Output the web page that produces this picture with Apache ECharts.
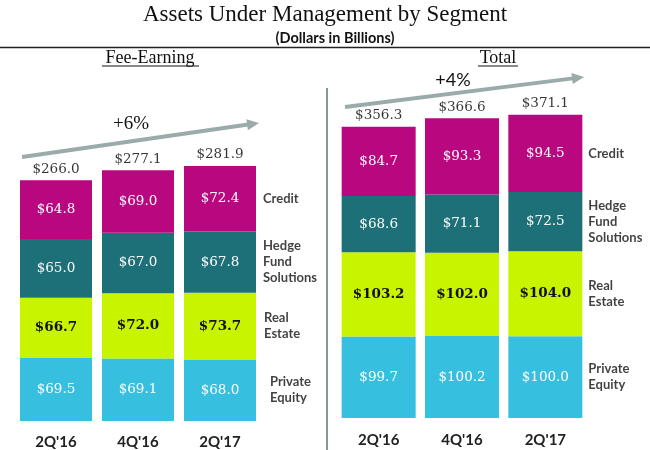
<!DOCTYPE html>
<html>
<head>
<meta charset="utf-8">
<script src="https://cdn.jsdelivr.net/npm/echarts@6/dist/echarts.min.js"></script>
<style>html,body{margin:0;padding:0;background:#fff;}#c{width:650px;height:450px;}</style>
</head>
<body>
<div id="c"></div>
<script>
const categories = ["2Q'16", "4Q'16", "2Q'17"];
const segments = ["Private Equity", "Real Estate", "Hedge Fund Solutions", "Credit"];
const segmentLabels = ["Private\nEquity", "Real\nEstate", "Hedge\nFund\nSolutions", "Credit"];

const feePE = [69.5, 69.1, 68.0];
const feeRE = [66.7, 72.0, 73.7];
const feeHFS = [65.0, 67.0, 67.8];
const feeCredit = [64.8, 69.0, 72.4];
const feeTotals = [266.0, 277.1, 281.9];

const totPE = [99.7, 100.2, 100.0];
const totRE = [103.2, 102.0, 104.0];
const totHFS = [68.6, 71.1, 72.5];
const totCredit = [84.7, 93.3, 94.5];
const totTotals = [356.3, 366.6, 371.1];

const feeGrowth = "+6%";
const totGrowth = "+4%";

const colors = ['#37bfe0', '#c8f400', '#1d7078', '#b8077f'];
const valueColors = ['#ffffff', '#111111', '#ffffff', '#ffffff'];
const valueWeights = ['normal', 'bold', 'normal', 'normal'];

const fmt = v => '$' + v.toFixed(1);

function panelSeries(idx, stacks, totals, barWidth, labelGap) {
  const out = [];
  stacks.forEach((arr, s) => {
    out.push({
      type: 'bar', name: segments[s], stack: 'p' + idx,
      xAxisIndex: idx, yAxisIndex: idx, barWidth: barWidth,
      data: arr,
      itemStyle: { color: colors[s] },
      label: {
        show: true, position: 'inside',
        formatter: p => fmt(p.value),
        fontFamily: 'DejaVu Serif', fontSize: 13.5,
        color: valueColors[s], fontWeight: valueWeights[s]
      },
      silent: true
    });
  });
  // totals on top
  out.push({
    type: 'scatter', xAxisIndex: idx, yAxisIndex: idx, symbolSize: 0,
    data: totals.map((t, i) => [i, t]),
    label: {
      show: true, position: 'top', distance: 4,
      formatter: p => fmt(p.value[1]),
      fontFamily: 'DejaVu Serif', fontSize: 13.5, color: '#000'
    },
    silent: true
  });
  // segment names beside the last bar
  const last = categories.length - 1;
  let cum = 0;
  const segData = stacks.map((arr, s) => {
    const mid = cum + arr[last] / 2;
    cum += arr[last];
    return { value: [last, mid], label: { formatter: segmentLabels[s], distance: barWidth / 2 + labelGap[s] } };
  });
  out.push({
    type: 'scatter', xAxisIndex: idx, yAxisIndex: idx, symbolSize: 0,
    data: segData,
    label: {
      show: true, position: 'right', align: 'left',
      fontFamily: 'Lato', fontSize: 13, fontWeight: 'bold', color: '#111', lineHeight: 16
    },
    silent: true
  });
  return out;
}

function arrow(x1, y1, x2, y2) {
  const dx = x2 - x1, dy = y2 - y1, L = Math.hypot(dx, dy);
  const ux = dx / L, uy = dy / L, px = -uy, py = ux;
  const hl = 12, hw = 5.5;
  const bx = x2 - ux * hl, by = y2 - uy * hl;
  const c = '#9aaba9';
  return [
    { type: 'line', shape: { x1: x1, y1: y1, x2: bx + ux, y2: by + uy }, style: { stroke: c, lineWidth: 4 } },
    { type: 'polygon', shape: { points: [[x2, y2], [bx + px * hw, by + py * hw], [bx - px * hw, by - py * hw]] }, style: { fill: c } }
  ];
}

const chart = echarts.init(document.getElementById('c'));
const xAxisCommon = {
  type: 'category', data: categories,
  axisLine: { show: false }, axisTick: { show: false },
  axisLabel: { fontFamily: 'Lato', fontSize: 15, fontWeight: 'bold', color: '#222' }
};
chart.setOption({
  animation: false,
  backgroundColor: '#fff',
  grid: [
    { left: 15, width: 246, top: 59, height: 362 },
    { left: 337, width: 250, top: 91, height: 327 }
  ],
  xAxis: [
    Object.assign({}, xAxisCommon, { gridIndex: 0, axisLabel: Object.assign({}, xAxisCommon.axisLabel, { margin: 14 }) }),
    Object.assign({}, xAxisCommon, { gridIndex: 1, axisLabel: Object.assign({}, xAxisCommon.axisLabel, { margin: 15 }) })
  ],
  yAxis: [
    { type: 'value', gridIndex: 0, min: 0, max: 400, show: false },
    { type: 'value', gridIndex: 1, min: 0, max: 400, show: false }
  ],
  series: [].concat(
    panelSeries(0, [feePE, feeRE, feeHFS, feeCredit], feeTotals, 72, [14, 8, 7, 7]),
    panelSeries(1, [totPE, totRE, totHFS, totCredit], totTotals, 74, [6, 6, 6, 6])
  ),
  graphic: [
    { type: 'text', left: 'center', top: 3, style: { text: 'Assets Under Management by Segment', font: '23px "Liberation Serif"', fill: '#111' } },
    { type: 'text', x: 335, y: 38, style: { text: '(Dollars in Billions)', font: 'bold 14.5px Lato', fill: '#111', align: 'center', verticalAlign: 'middle' } },
    { type: 'line', shape: { x1: 0, y1: 47.5, x2: 650, y2: 47.5 }, style: { stroke: '#222', lineWidth: 1.5 } },
    { type: 'text', x: 150, y: 58, style: { text: 'Fee-Earning', font: '18px "Liberation Serif"', fill: '#111', align: 'center', verticalAlign: 'middle' } },
    { type: 'line', shape: { x1: 102, y1: 66, x2: 199, y2: 66 }, style: { stroke: '#111', lineWidth: 1 } },
    { type: 'text', x: 498, y: 58, style: { text: 'Total', font: '18px "Liberation Serif"', fill: '#111', align: 'center', verticalAlign: 'middle' } },
    { type: 'line', shape: { x1: 478, y1: 66, x2: 518, y2: 66 }, style: { stroke: '#111', lineWidth: 1 } },
    { type: 'line', shape: { x1: 327, y1: 88, x2: 327, y2: 450 }, style: { stroke: '#8a9494', lineWidth: 2 } },
    { type: 'text', x: 131, y: 124, style: { text: feeGrowth, font: '19px "Liberation Serif"', fill: '#111', align: 'center', verticalAlign: 'middle' } },
    { type: 'text', x: 453, y: 80, style: { text: totGrowth, font: '18px Lato', fill: '#111', align: 'center', verticalAlign: 'middle' } }
  ].concat(arrow(22, 157, 259, 123), arrow(345, 107, 584, 77))
});
</script>
</body>
</html>
